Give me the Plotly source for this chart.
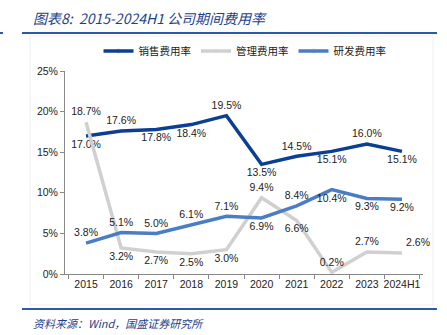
import plotly.graph_objects as go

years = ["2015", "2016", "2017", "2018", "2019", "2020", "2021", "2022", "2023", "2024H1"]
sales = [17.0, 17.6, 17.8, 18.4, 19.5, 13.5, 14.5, 15.1, 16.0, 15.1]
mgmt = [18.7, 3.2, 2.7, 2.5, 3.0, 9.4, 6.6, 0.2, 2.7, 2.6]
rnd = [3.8, 5.1, 5.0, 6.1, 7.1, 6.9, 8.4, 10.4, 9.3, 9.2]

sales_pos = ["bottom center", "top center", "bottom center", "bottom center", "top center",
             "bottom center", "top center", "bottom center", "top center", "bottom center"]
mgmt_pos = ["top center", "bottom center", "bottom center", "bottom center", "bottom center",
            "top center", "bottom center", "top center", "top center", "top right"]
rnd_pos = ["top center", "top center", "top center", "top center", "top center",
           "bottom center", "top center", "bottom center", "bottom center", "bottom center"]

W, H = 447, 335
L, R, T, B = 65, 423, 71, 274


def px(x):
    return (x - L) / (R - L)


def py(y):
    return (B - y) / (B - T)


lab_font = dict(family="Liberation Sans, Arial, sans-serif", size=10.5, color="#222222")


def add_series(vals, name, color, pos):
    fig.add_trace(go.Scatter(x=years, y=vals, name=name, mode="lines+markers+text",
                             line=dict(color=color, width=3.5),
                             marker=dict(size=5, opacity=0, color=color),
                             text=[f"{v:.1f}%" for v in vals], textposition=pos,
                             textfont=lab_font, cliponaxis=False))


fig = go.Figure()
add_series(sales, "销售费用率", "#0A3F94", sales_pos)
add_series(mgmt, "管理费用率", "#D0D0D0", mgmt_pos)
add_series(rnd, "研发费用率", "#4A7DC5", rnd_pos)

blue = "#2B5BA6"
shapes = [
    dict(type="rect", xref="paper", yref="paper", x0=px(30), x1=px(433), y0=py(36), y1=py(305),
         line=dict(color="#EEEEEE", width=1), layer="below"),
    dict(type="line", xref="paper", yref="paper", x0=px(22), x1=px(437), y0=py(33), y1=py(33),
         line=dict(color=blue, width=2)),
    dict(type="line", xref="paper", yref="paper", x0=px(0), x1=px(3), y0=py(33), y1=py(33),
         line=dict(color=blue, width=2)),
    dict(type="line", xref="paper", yref="paper", x0=px(22), x1=px(437), y0=py(309), y1=py(309),
         line=dict(color=blue, width=2)),
]

annotations = [
    dict(text="图表8:  2015-2024H1 公司期间费用率", xref="paper", yref="paper",
         x=px(31), y=py(18), xanchor="left", yanchor="middle", showarrow=False,
         font=dict(family="Noto Sans CJK SC, sans-serif", size=14, color="#1F3F8A", style="italic")),
    dict(text="资料来源：Wind，国盛证券研究所", xref="paper", yref="paper",
         x=px(31), y=py(323), xanchor="left", yanchor="middle", showarrow=False,
         font=dict(family="Noto Sans CJK SC, sans-serif", size=11, color="#1F3F8A", style="italic")),
]

fig.update_layout(
    width=W, height=H,
    margin=dict(l=L, r=W - R, t=T, b=H - B, pad=0),
    paper_bgcolor="white", plot_bgcolor="white",
    showlegend=True,
    legend=dict(orientation="h", x=px(245), xanchor="center", y=py(51), yanchor="middle",
                font=dict(family="Noto Sans CJK SC, sans-serif", size=10.5, color="#222222"),
                itemwidth=30, tracegroupgap=0, bgcolor="rgba(0,0,0,0)"),
    shapes=shapes, annotations=annotations,
    xaxis=dict(type="category", showgrid=False, showline=True, linecolor="#888888", linewidth=1,
               ticks="outside", ticklen=4, tickcolor="#888888", tickson="boundaries",
               tickangle=0, tickfont=lab_font, fixedrange=True),
    yaxis=dict(range=[0, 25], dtick=5, ticksuffix="%", showgrid=False, showline=True,
               linecolor="#888888", linewidth=1, ticks="outside", ticklen=4, tickcolor="#888888",
               tickfont=lab_font, zeroline=False, fixedrange=True),
)

fig.write_html("out.html")
